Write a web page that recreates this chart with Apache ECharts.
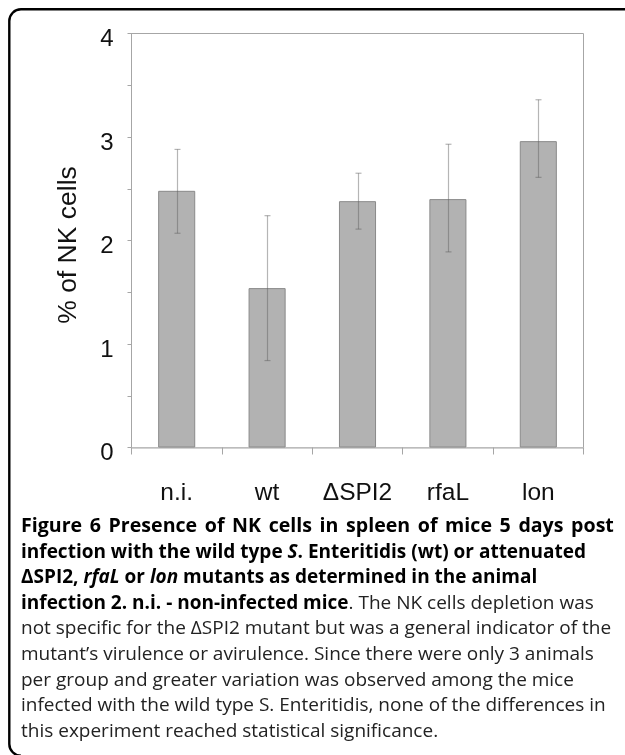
<!DOCTYPE html>
<html><head><meta charset="utf-8">
<script src="https://cdn.jsdelivr.net/npm/echarts@6/dist/echarts.min.js"></script>
<style>html,body{margin:0;padding:0;background:#fff}#c{width:625px;height:755px}</style>
</head><body><div id="c"></div>
<script>
// ---- data ----
const categories = ['n.i.', 'wt', '\u0394SPI2', 'rfaL', 'lon'];
const meanValues = [2.48, 1.54, 2.38, 2.40, 2.96];
const errorLow   = [2.07, 0.84, 2.11, 1.89, 2.61];
const errorHigh  = [2.88, 2.24, 2.65, 2.93, 3.36];
const yAxisTitle = '% of NK cells';
// caption lines: segments of [text, style]  (t = bold title line, b = bold, bi = bold italic, r = regular)
const captionLines = [
  [['Figure 6 Presence of NK cells in spleen of mice 5 days post', 't']],
  [['infection with the wild type ', 'b'], ['S', 'bi'], ['. Enteritidis (wt) or attenuated', 'b']],
  [['\u0394SPI2, ', 'b'], ['rfaL', 'bi'], [' or ', 'b'], ['lon', 'bi'], [' mutants as determined in the animal', 'b']],
  [['infection 2. n.i. - non-infected mice', 'b'], ['. The NK cells depletion was', 'r']],
  [['not specific for the \u0394SPI2 mutant but was a general indicator of the', 'r']],
  [['mutant\u2019s virulence or avirulence. Since there were only 3 animals', 'r']],
  [['per group and greater variation was observed among the mice', 'r']],
  [['infected with the wild type S. Enteritidis, none of the differences in', 'r']],
  [['this experiment reached statistical significance.', 'r']]
];

// ---- chart ----
const chart = echarts.init(document.getElementById('c'), null, {renderer: 'canvas'});
const axisFont = '"Liberation Sans", Arial, sans-serif';
const capFont = '"Open Sans", "Noto Sans", sans-serif';
const capSize = 19;
const capRich = {
  t: {fontFamily: capFont, fontSize: 19.6, fontWeight: 'bold', fill: '#000'},
  ts: {fontFamily: capFont, fontSize: 19.6, fontWeight: 'bold', fill: '#000', width: 7.6},
  b: {fontFamily: capFont, fontSize: capSize, fontWeight: 'bold', fill: '#000'},
  bi: {fontFamily: capFont, fontSize: capSize, fontWeight: 'bold', fontStyle: 'italic', fill: '#000'},
  r: {fontFamily: capFont, fontSize: capSize, fontWeight: 'normal', fill: '#222'}
};
function segText(s) {
  if (s[1] === 't') {
    return s[0].split(' ').map(w => '{t|' + w + '}').join('{ts| }');
  }
  return '{' + s[1] + '|' + s[0] + '}';
}
const lineTop = 526.5, lineStep = 25.6;
const captionGraphics = captionLines.map((segs, i) => ({
  type: 'text',
  x: 21,
  y: lineTop + i * lineStep,
  style: {
    text: segs.map(segText).join(''),
    rich: capRich,
    fontFamily: capFont, fontSize: capSize,
    verticalAlign: 'middle'
  }
}));

const frameStyle = {stroke: '#000', lineWidth: 2.4, fill: null};
const option = {
  animation: false,
  backgroundColor: '#fff',
  grid: {left: 131.5, right: 41.5, top: 33.5, bottom: 307.5, show: true, borderColor: '#a6a6a6', borderWidth: 1},
  xAxis: {
    type: 'category',
    data: categories,
    axisLine: {lineStyle: {color: '#c4c4c4', width: 1.5}},
    axisTick: {show: true, length: 7, lineStyle: {color: '#a6a6a6'}},
    axisLabel: {fontFamily: axisFont, fontSize: 24.5, color: '#111', margin: 33}
  },
  yAxis: {
    type: 'value', min: 0, max: 4, interval: 0.5,
    axisLine: {show: true, lineStyle: {color: '#a6a6a6'}},
    axisTick: {show: true, length: 4, lineStyle: {color: '#a6a6a6'}},
    splitLine: {show: false},
    axisLabel: {fontFamily: axisFont, fontSize: 24, color: '#111', margin: 18,
      verticalAlign: 'top', lineHeight: 12,
      formatter: v => (Math.abs(v - Math.round(v)) < 1e-9 ? String(Math.round(v)) : '')}
  },
  series: [
    {
      type: 'bar', data: meanValues, barWidth: '41%',
      itemStyle: {color: '#b2b2b2', borderColor: '#8a8a8a', borderWidth: 1}
    },
    {
      type: 'custom',
      data: categories.map((c, i) => [i, errorLow[i], errorHigh[i]]),
      renderItem: function (params, api) {
        const lo = api.coord([api.value(0), api.value(1)]);
        const hi = api.coord([api.value(0), api.value(2)]);
        const x = Math.round(lo[0]) + 0.5, hw = 3;
        const st = {stroke: 'rgba(90,90,90,0.45)', lineWidth: 1.2};
        return {type: 'group', children: [
          {type: 'line', shape: {x1: x, y1: lo[1], x2: x, y2: hi[1]}, style: st},
          {type: 'line', shape: {x1: x - hw, y1: lo[1], x2: x + hw, y2: lo[1]}, style: st},
          {type: 'line', shape: {x1: x - hw, y1: hi[1], x2: x + hw, y2: hi[1]}, style: st}
        ]};
      },
      z: 5
    }
  ],
  graphic: [
    {type: 'line', shape: {x1: 21, y1: 9.3, x2: 626, y2: 9.3}, style: frameStyle},
    {type: 'line', shape: {x1: 9.3, y1: 21, x2: 9.3, y2: 744}, style: frameStyle},
    {type: 'arc', shape: {cx: 21, cy: 21, r: 11.7, startAngle: Math.PI, endAngle: Math.PI * 1.5, clockwise: true}, style: frameStyle},
    {type: 'arc', shape: {cx: 21, cy: 744, r: 11.7, startAngle: Math.PI * 0.5, endAngle: Math.PI, clockwise: true}, style: frameStyle},
    {type: 'text', x: 69, y: 245, rotation: Math.PI / 2,
     style: {text: yAxisTitle, fontFamily: axisFont, fontSize: 26.5, fill: '#111', align: 'center', verticalAlign: 'middle'}}
  ].concat(captionGraphics)
};
chart.setOption(option);
</script>
</body></html>
